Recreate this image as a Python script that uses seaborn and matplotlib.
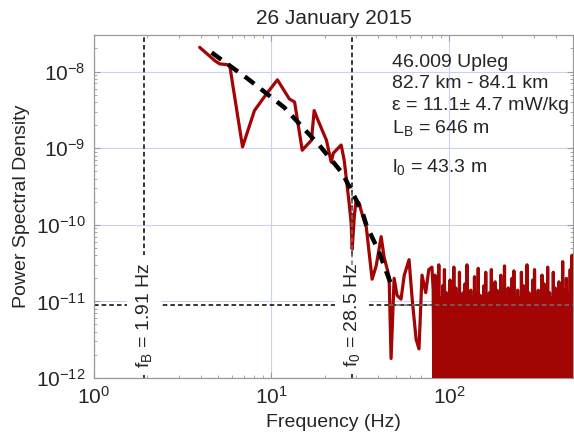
import numpy as np
import pandas as pd
import matplotlib
matplotlib.use("Agg")
import matplotlib.pyplot as plt
from matplotlib.ticker import FixedLocator, LogLocator, NullFormatter, LogFormatterSciNotation
import seaborn as sns

# ---------------- data ----------------
freq_low = [3.94, 4.79, 5.10, 5.81, 6.87, 8.02, 9.37, 10.8, 12.6, 13.5, 14.9, 16.8,
            17.4, 18.1, 20.4, 21.7, 22.3, 24.7, 25.7, 27.4, 28.1, 28.5, 29.3, 30.0,
            31.2, 32.5, 34.2, 36.9, 38.9, 41.5, 43.1, 46.0, 47.2, 49.1, 51.0, 53.7,
            56.0, 59.6, 62.0, 65.3, 67.8, 70.5, 74.0, 77.0, 80.2]
psd_low = [2.07e-8, 1.39e-8, 1.26e-8, 1.22e-8, 1.04e-9, 3.1e-9, 5.1e-9, 7.8e-9,
           4.4e-9, 4.0e-9, 9.4e-10, 1.27e-9, 3.1e-9, 2.45e-9, 1.27e-9, 6.6e-10,
           8.6e-10, 1.1e-9, 6.9e-10, 1.9e-10, 1.07e-10, 4.8e-11, 1.3e-10, 2.1e-10,
           1.9e-10, 1.35e-10, 9.4e-11, 1.95e-11, 2.9e-11, 7e-11, 3.8e-11, 2.1e-11,
           1.8e-12, 2e-11, 1.2e-11, 1.07e-11, 2.2e-11, 3.5e-11, 1.1e-11, 3.2e-12,
           2.4e-12, 2.2e-11, 1.3e-11, 2.6e-11, 2.8e-11]

# noise-floor part (units of 1e-12), 81 Hz .. 500 Hz
noise_e12 = [14, 0.4, 22, 0.8, 12, 2.5, 30, 0.3, 11, 0.6, 16, 1.5, 26, 0.2, 13, 0.5,
             12, 4, 19, 0.3, 11, 0.7, 28, 0.2, 15, 1.2, 12, 0.4, 24, 0.3, 11, 3,
             13, 0.5, 17, 0.2, 30, 0.6, 12, 0.3, 14, 1.8, 11, 0.4, 21, 0.2, 13, 0.7,
             27, 0.3, 12, 5, 11, 0.4, 16, 0.3, 24, 0.6, 12, 0.2, 13, 1.0, 26, 0.4,
             11, 0.3, 18, 2, 14, 0.5, 12, 0.2, 22, 0.3, 13, 0.8, 29, 0.4, 11, 0.3,
             15, 0.2, 12, 1.5, 20, 0.4, 25, 0.3, 12, 0.6, 14, 0.2, 11, 0.3, 24, 3.5,
             16, 0.4, 12, 0.2, 30, 0.5, 13, 0.3, 11, 0.8, 19, 0.2, 26, 0.4, 12, 0.3,
             14, 2.2, 11, 0.3, 22, 0.5, 17, 0.2, 12, 0.4, 28, 0.3, 13, 0.7, 11, 0.2,
             24, 1.1, 15, 0.3, 12, 0.4, 18, 0.2, 12, 0.6, 33, 0.3, 14, 0.2, 20, 0.5,
             12, 0.3, 26, 0.4, 40, 0.2]

fit_freq = [4.6, 7.33, 11.8, 18.6, 25.1, 32.5, 34.2, 40.4, 47.2]
fit_psd = [1.77e-8, 8.1e-9, 3.4e-9, 1.09e-9, 4.7e-10, 1.48e-10, 1.0e-10, 4.4e-11, 1.66e-11]

f_B = 1.91
f_0 = 28.5
noise_level = 9.1e-12

x_major = [1, 10, 100]
y_major = [1e-12, 1e-11, 1e-10, 1e-9, 1e-8]

title = "26 January 2015"
info_lines = ["46.009 Upleg", "82.7 km - 84.1 km", "\u03b5 = 11.1\u00b1 4.7 mW/kg",
              r"L$_\mathregular{B}$ = 646 m", r"l$_\mathregular{0}$ = 43.3 m"]

# ---------------- style ----------------
sns.set_style("ticks")
plt.rcParams["font.family"] = ["Liberation Sans", "DejaVu Sans"]
plt.rcParams["mathtext.fontset"] = "custom"
plt.rcParams["mathtext.rm"] = "Liberation Sans"
plt.rcParams["mathtext.it"] = "Liberation Sans:italic"
plt.rcParams["mathtext.bf"] = "Liberation Sans:bold"
plt.rcParams["axes.unicode_minus"] = False

red = "#a30404"
frame = "#9a9a9a"

noise_freq = np.geomspace(81.5, 500, len(noise_e12))
spec = pd.DataFrame({
    "f": np.concatenate([freq_low, noise_freq]),
    "p": np.concatenate([psd_low, np.array(noise_e12) * 1e-12]),
})
fit = pd.DataFrame({"f": fit_freq, "p": fit_psd})

fig = plt.figure(figsize=(5.74, 4.37), dpi=100)
ax = fig.add_axes([94 / 574, 59 / 437, 479 / 574, 343 / 437])

ax.set_xscale("log")
ax.set_yscale("log")

ax.grid(True, which="major", color="#c9d2f3", lw=0.8, zorder=0)

# threshold lines (under data)
ax.axhline(noise_level, color="black", lw=1.1, ls=(0, (3, 2)), zorder=1)
ax.axvline(f_B, color="black", lw=1.1, ls=(0, (3, 2)), zorder=1)
ax.axvline(f_0, color="black", lw=1.1, ls=(0, (3, 2)), zorder=1)

sns.lineplot(data=spec, x="f", y="p", color=red, lw=2.3, sort=False,
             estimator=None, ax=ax, zorder=3)
sns.lineplot(data=fit, x="f", y="p", color="black", lw=3.2, sort=False,
             estimator=None, ax=ax, zorder=4, linestyle=(0, (2.7, 1.9)))

# grey overlays where lines cross the data
ax.plot([46, 500], [noise_level, noise_level], color="#6f6f6f", lw=1.1,
        ls=(0, (3, 2)), zorder=5)
ax.plot([f_0, f_0], [3e-11, 3e-10], color="#6f6f6f", lw=1.1,
        ls=(0, (3, 2)), zorder=5)

box = dict(facecolor="white", edgecolor="none", pad=5)
ax.text(f_B, 6.6e-12, r"f$_\mathregular{B}$ = 1.91 Hz", rotation=90, fontsize=14,
        ha="center", va="center", bbox=box, zorder=2)
ax.text(f_0, 6.6e-12, r"f$_\mathregular{0}$ = 28.5 Hz", rotation=90, fontsize=14,
        ha="center", va="center", bbox=box, zorder=2)

ys = [0.908, 0.845, 0.781, 0.714, 0.601]
for line, yy in zip(info_lines, ys):
    ax.text(0.623, yy, line, transform=ax.transAxes, fontsize=14,
            ha="left", va="baseline", zorder=6)

ax.set_xlim(1, 500)
ax.set_ylim(1e-12, 3e-8)

ax.set_title(title, fontsize=15, pad=8)
ax.set_xlabel("Frequency (Hz)", fontsize=14, labelpad=4)
ax.set_ylabel("Power Spectral Density", fontsize=14, labelpad=4)

ax.xaxis.set_major_locator(FixedLocator(x_major))
ax.yaxis.set_major_locator(FixedLocator(y_major))
ax.xaxis.set_major_formatter(LogFormatterSciNotation())
ax.yaxis.set_major_formatter(LogFormatterSciNotation())
ax.xaxis.set_minor_locator(LogLocator(base=10, subs=np.arange(2, 10), numticks=20))
ax.yaxis.set_minor_locator(LogLocator(base=10, subs=np.arange(2, 10), numticks=20))
ax.xaxis.set_minor_formatter(NullFormatter())
ax.yaxis.set_minor_formatter(NullFormatter())
ax.tick_params(which="both", direction="in", top=True, right=True, color=frame)
ax.tick_params(which="major", length=4, labelsize=15, pad=6)
ax.tick_params(which="minor", length=2.5)
for s in ax.spines.values():
    s.set_color(frame)
    s.set_linewidth(0.9)

fig.savefig("out.png", dpi=100)
